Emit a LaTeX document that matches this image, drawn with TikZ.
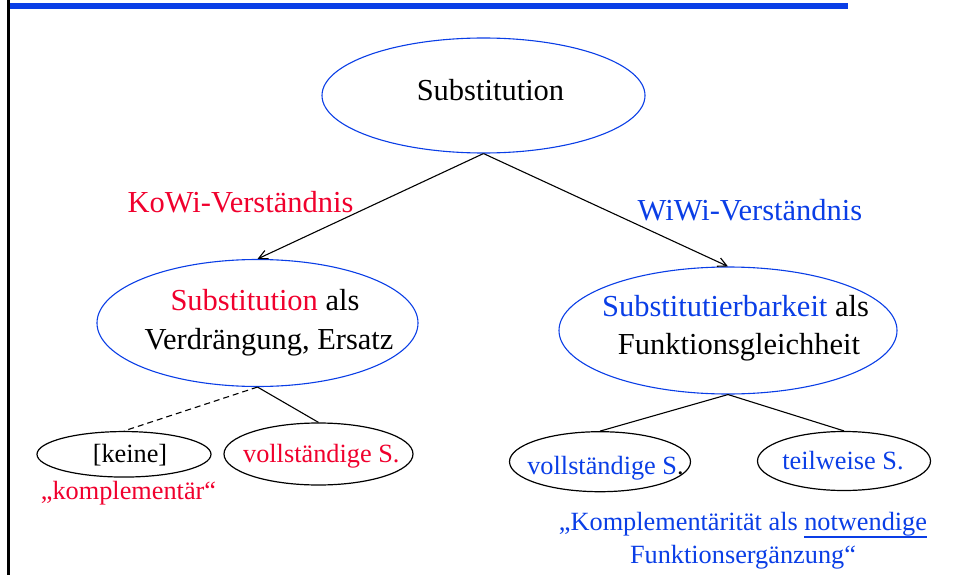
\documentclass[tikz,border=0pt]{standalone}
\usepackage{fontspec}
\setmainfont{Liberation Serif}
\usetikzlibrary{shapes.geometric,arrows.meta}
\definecolor{kred}{RGB}{240,0,45}
\definecolor{wblue}{RGB}{10,62,230}
\newcommand\bigtxt{\fontsize{30.5}{38}\selectfont}
\newcommand\smalltxt{\fontsize{26.3}{33}\selectfont}
\newcommand\myul[1]{\setbox0\hbox{#1}\rlap{\rule[-7.5pt]{\wd0}{1.8pt}}\box0}
\begin{document}
\begin{tikzpicture}[x=1pt,y=-1pt,
  bluebox/.style={ellipse,draw=wblue,line width=1.1pt,inner sep=0pt},
  blackbox/.style={ellipse,draw=black,line width=1.2pt,inner sep=0pt},
  txt/.style={inner sep=0pt,anchor=base},
  link/.style={line width=1.1pt},
  arr/.style={link,-{Straight Barb[length=9pt,width=9pt,line width=1.1pt]}}]
\useasboundingbox (0,0) rectangle (955,575);
% frame decorations
\fill[black] (7.3,0) rectangle (10,575);
\fill[wblue] (10,3) rectangle (848,9);

% ellipses
\node[bluebox,minimum width=323pt,minimum height=115pt] (top) at (483.5,95.5) {};
\node[bluebox,minimum width=321pt,minimum height=127pt] (mL) at (257.5,323) {};
\node[bluebox,minimum width=338pt,minimum height=127pt] (mR) at (728,330.5) {};
\node[blackbox,minimum width=174pt,minimum height=45.5pt] (keine) at (124,454.3) {};
\node[blackbox,minimum width=189pt,minimum height=62pt] (vL) at (318.5,454) {};
\node[blackbox,minimum width=181pt,minimum height=60pt] (vR) at (600,461.7) {};
\node[blackbox,minimum width=173pt,minimum height=59pt] (tR) at (844,461) {};

% texts inside the ellipses
\node[txt] (ttop) at (490.5,101) {\bigtxt Substitution};
\node[txt] (tL1) at (265,310) {\bigtxt\textcolor{kred}{Substitution} als};
\node[txt] (tL2) at (269,349) {\bigtxt Verdrängung, Ersatz};
\node[txt] (tR1) at (735.5,316.7) {\bigtxt\textcolor{wblue}{Substitutierbarkeit} als};
\node[txt] (tR2) at (739,354) {\bigtxt Funktionsgleichheit};
\node[txt] (tk) at (130,462.7) {\smalltxt [keine]};
\node[txt] (tvL) at (321.3,462.7) {\smalltxt\textcolor{kred}{vollständige S.}};
\node[txt] (tvR) at (605.5,474) {\smalltxt\textcolor{wblue}{vollständige S}.};
\node[txt] (ttR) at (843,469) {\smalltxt\textcolor{wblue}{teilweise S.}};

% branch labels
\node[txt,text=kred] (kowi) at (240.5,212.3) {\bigtxt KoWi-Verständnis};
\node[txt,text=wblue] (wiwi) at (750,220) {\bigtxt WiWi-Verständnis};

% notes
\node[txt,text=kred] (kompl) at (128.5,499) {\smalltxt „komplementär“};
\node[txt,text=wblue] (note1) at (743,530) {\smalltxt „Komplementärität als \myul{notwendige}};
\node[txt,text=wblue] (note2) at (743,563) {\smalltxt Funktionsergänzung“};

% connectors
\draw[arr] (top.south) -- (mL.north);
\draw[arr] (top.south) -- (mR.north);
\draw[link,dash pattern=on 6pt off 4pt] (mL.south) -- (keine.north);
\draw[link] (mL.south) -- (vL.north);
\draw[link] (mR.south) -- (vR.north);
\draw[link] (mR.south) -- (tR.north);
\end{tikzpicture}
\end{document}
